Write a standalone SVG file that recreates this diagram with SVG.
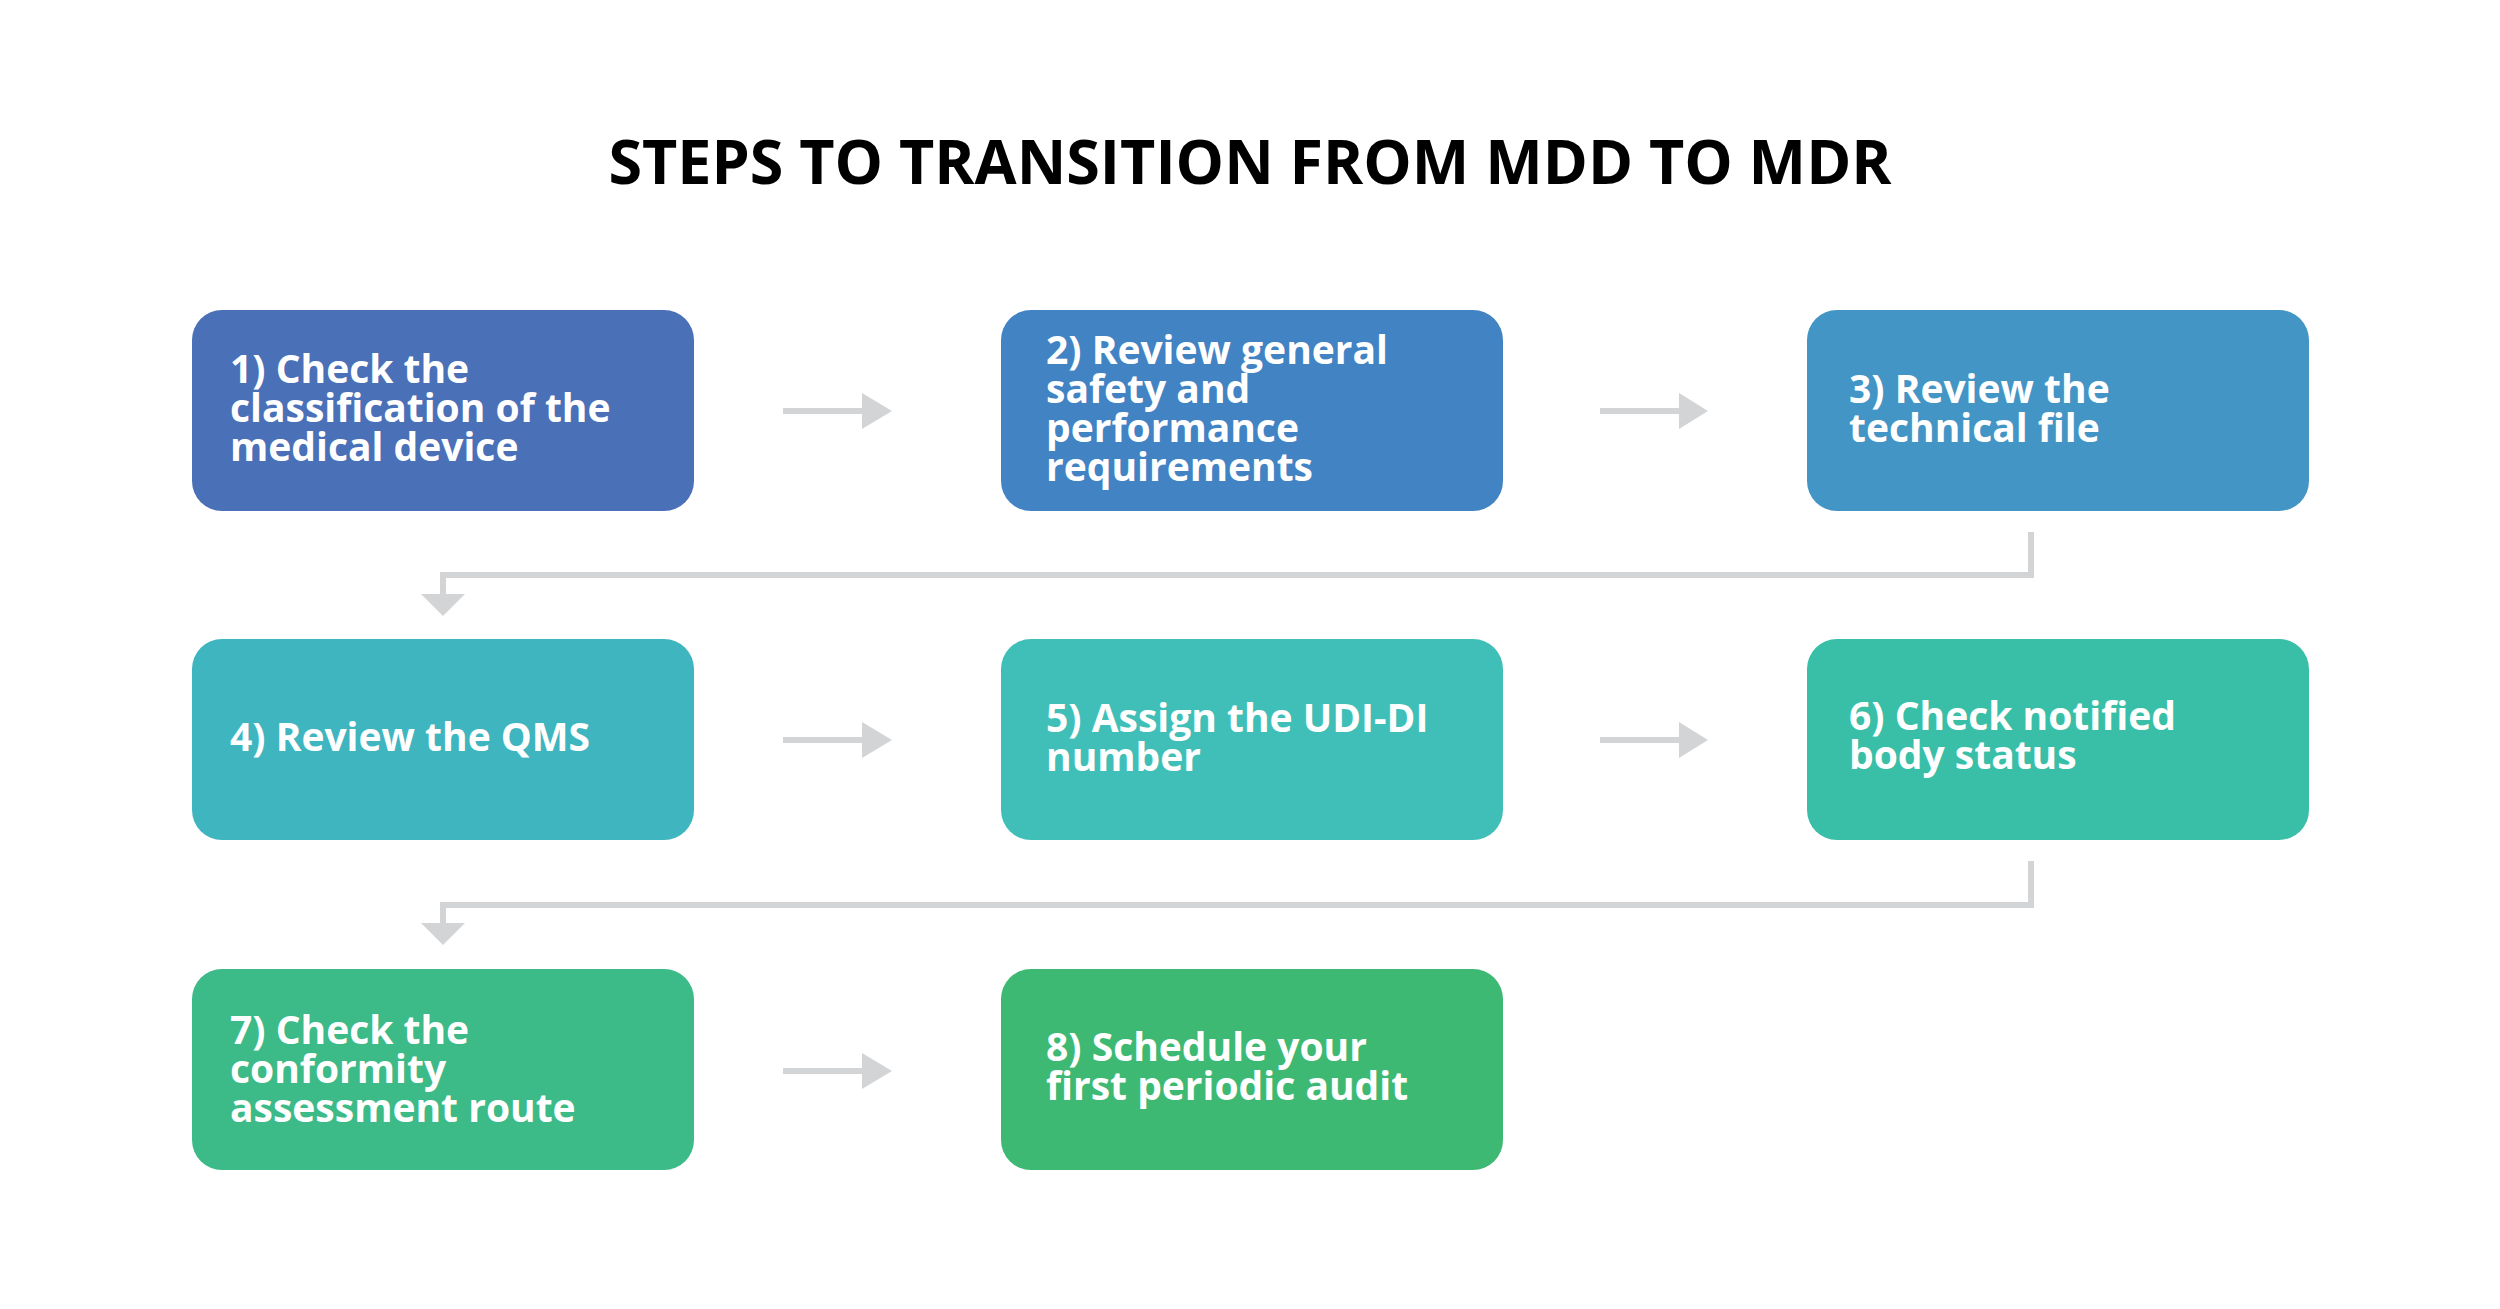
<svg xmlns="http://www.w3.org/2000/svg" width="2500" height="1309" viewBox="0 0 2500 1309">
<style>
.node text{font-family:"Open Sans","Liberation Sans",sans-serif;font-weight:700;font-size:39px;fill:#ffffff}
.title{font-family:"Open Sans","Liberation Sans",sans-serif;font-weight:700;font-size:61px;fill:#000000}
.ln{stroke:#D3D4D6;stroke-width:6;fill:none}
.hd{fill:#D3D4D6}
</style>
<rect x="0" y="0" width="2500" height="1309" fill="#ffffff"/>
<text class="title" x="1250" y="184" text-anchor="middle">STEPS TO TRANSITION FROM MDD TO MDR</text>
<g id="connectors">
<line class="ln" x1="783" y1="411" x2="864" y2="411"/><polygon class="hd" points="862,393 892,411 862,429"/>
<line class="ln" x1="1600" y1="411" x2="1681" y2="411"/><polygon class="hd" points="1679,393 1708,411 1679,429"/>
<line class="ln" x1="783" y1="740" x2="864" y2="740"/><polygon class="hd" points="862,722 892,740 862,758"/>
<line class="ln" x1="1600" y1="740" x2="1681" y2="740"/><polygon class="hd" points="1679,722 1708,740 1679,758"/>
<line class="ln" x1="783" y1="1071" x2="864" y2="1071"/><polygon class="hd" points="862,1053 892,1071 862,1089"/>
<polyline class="ln" points="2031,532 2031,575 443,575 443,596"/><polygon class="hd" points="421,594 465,594 443,616"/>
<polyline class="ln" points="2031,861 2031,905 443,905 443,925"/><polygon class="hd" points="421,923 465,923 443,945"/>
</g>
<g id="node1" class="node"><rect x="192" y="310" width="502" height="201" rx="30" fill="#4A70B8"/>
<text><tspan x="230" y="383">1) Check the</tspan><tspan x="230" y="422">classification of the</tspan><tspan x="230" y="461">medical device</tspan></text></g>
<g id="node2" class="node"><rect x="1001" y="310" width="502" height="201" rx="30" fill="#4283C4"/>
<text><tspan x="1046" y="364">2) Review general</tspan><tspan x="1046" y="403">safety and</tspan><tspan x="1046" y="442">performance</tspan><tspan x="1046" y="481">requirements</tspan></text></g>
<g id="node3" class="node"><rect x="1807" y="310" width="502" height="201" rx="30" fill="#4295C5"/>
<text><tspan x="1849" y="403">3) Review the</tspan><tspan x="1849" y="442">technical file</tspan></text></g>
<g id="node4" class="node"><rect x="192" y="639" width="502" height="201" rx="30" fill="#3EB5BF"/>
<text><tspan x="230" y="751">4) Review the QMS</tspan></text></g>
<g id="node5" class="node"><rect x="1001" y="639" width="502" height="201" rx="30" fill="#40BFB9"/>
<text><tspan x="1046" y="732">5) Assign the UDI-DI</tspan><tspan x="1046" y="771">number</tspan></text></g>
<g id="node6" class="node"><rect x="1807" y="639" width="502" height="201" rx="30" fill="#39BFA7"/>
<text><tspan x="1849" y="730">6) Check notified</tspan><tspan x="1849" y="769">body status</tspan></text></g>
<g id="node7" class="node"><rect x="192" y="969" width="502" height="201" rx="30" fill="#3CBA87"/>
<text><tspan x="230" y="1044">7) Check the</tspan><tspan x="230" y="1083">conformity</tspan><tspan x="230" y="1122">assessment route</tspan></text></g>
<g id="node8" class="node"><rect x="1001" y="969" width="502" height="201" rx="30" fill="#3EB973"/>
<text><tspan x="1046" y="1061">8) Schedule your</tspan><tspan x="1046" y="1100">first periodic audit</tspan></text></g>
</svg>
